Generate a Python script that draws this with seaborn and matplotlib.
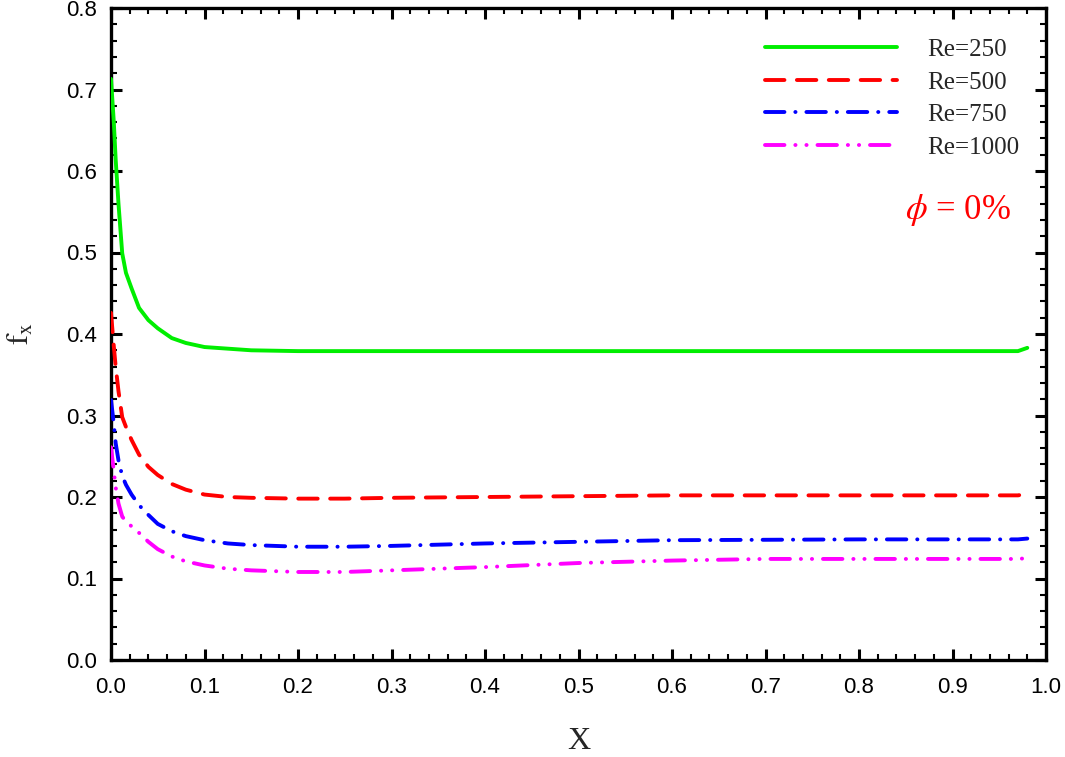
import numpy as np
import pandas as pd
import matplotlib
matplotlib.use("Agg")
import matplotlib.pyplot as plt
from matplotlib.ticker import MultipleLocator
import seaborn as sns

# ---- data ----
x_vals = [0.0, 0.003, 0.005, 0.008, 0.012, 0.016, 0.022, 0.03, 0.04, 0.05,
          0.065, 0.08, 0.1, 0.125, 0.15, 0.2, 0.25, 0.3, 0.4, 0.5,
          0.6, 0.7, 0.8, 0.9, 0.97, 0.98]
re250 = [0.713, 0.660, 0.614, 0.560, 0.499, 0.475, 0.456, 0.432, 0.417, 0.407,
         0.395, 0.389, 0.384, 0.382, 0.380, 0.379, 0.379, 0.379, 0.379, 0.379,
         0.379, 0.379, 0.379, 0.379, 0.379, 0.383]
re500 = [0.426, 0.385, 0.360, 0.330, 0.298, 0.286, 0.270, 0.252, 0.237, 0.227,
         0.216, 0.209, 0.203, 0.200, 0.199, 0.198, 0.198, 0.199, 0.200, 0.201,
         0.202, 0.202, 0.202, 0.202, 0.202, 0.204]
re750 = [0.319, 0.290, 0.266, 0.245, 0.226, 0.215, 0.203, 0.190, 0.178, 0.167,
         0.158, 0.152, 0.147, 0.143, 0.141, 0.139, 0.139, 0.140, 0.143, 0.145,
         0.147, 0.1475, 0.148, 0.148, 0.148, 0.149]
re1000 = [0.261, 0.232, 0.212, 0.192, 0.176, 0.170, 0.164, 0.156, 0.145, 0.136,
          0.127, 0.121, 0.116, 0.112, 0.110, 0.108, 0.108, 0.110, 0.114, 0.119,
          0.122, 0.124, 0.124, 0.124, 0.124, 0.125]
labels = ["Re=250", "Re=500", "Re=750", "Re=1000"]
colors = ["#00ee00", "#ff0000", "#0000ff", "#ff00ff"]

x_ticks = [0.0, 0.1, 0.2, 0.3, 0.4, 0.5, 0.6, 0.7, 0.8, 0.9, 1.0]
y_ticks = [0.0, 0.1, 0.2, 0.3, 0.4, 0.5, 0.6, 0.7, 0.8]

df = pd.concat([
    pd.DataFrame({"x": x_vals, "f": vals, "series": lab})
    for vals, lab in zip([re250, re500, re750, re1000], labels)
], ignore_index=True)

sns.set_theme(style="ticks")
plt.rcParams["font.family"] = ["Liberation Sans", "DejaVu Sans"]
plt.rcParams["mathtext.fontset"] = "stix"
plt.rcParams["lines.dash_capstyle"] = "round"
plt.rcParams["lines.solid_capstyle"] = "round"

fig = plt.figure(figsize=(10.65, 7.57), dpi=100)
ax = fig.add_axes([111 / 1065, 97 / 757, 935 / 1065, 652 / 757])

dashes = {
    "Re=250": "",
    "Re=500": (5.0, 3.2),
    "Re=750": (5.0, 2.8, 0.05, 2.8),
    "Re=1000": (5.0, 2.8, 0.05, 2.8, 0.05, 2.8),
}
sns.lineplot(data=df, x="x", y="f", hue="series", style="series",
             palette=dict(zip(labels, colors)), dashes=dashes,
             hue_order=labels, style_order=labels,
             linewidth=2.8, ax=ax, sort=False, legend=True)
for line in ax.get_lines():
    line.set_zorder(3)

ax.set_xlim(0.0, 1.0)
ax.set_ylim(0.0, 0.8)
ax.set_xticks(x_ticks)
ax.set_yticks(y_ticks)
ax.set_xticklabels([f"{v:.1f}" for v in x_ticks])
ax.set_yticklabels([f"{v:.1f}" for v in y_ticks])
ax.xaxis.set_minor_locator(MultipleLocator(0.02))
ax.yaxis.set_minor_locator(MultipleLocator(0.02))
ax.tick_params(which="both", direction="in", top=True, right=True,
               labelsize=16, colors="black")
ax.tick_params(which="major", length=8, width=2.2)
ax.tick_params(which="minor", length=4.5, width=1.5)
ax.tick_params(axis="x", which="major", pad=12)
ax.tick_params(axis="y", which="major", pad=10)
for s in ax.spines.values():
    s.set_linewidth(2.4)
    s.set_color("black")

ax.set_xlabel("X", fontsize=23, family=["Liberation Serif"], labelpad=21)
ax.set_ylabel(r"$\mathrm{f_x}$", fontsize=22, labelpad=22)

leg = ax.legend(loc="upper left", bbox_to_anchor=(0.699, 0.953),
                frameon=False, handlelength=5.3,
                handletextpad=1.2, labelspacing=0.40,
                borderpad=0, borderaxespad=0,
                prop={"family": "Liberation Serif", "size": 18})
for line in leg.get_lines():
    line.set_linewidth(2.8)

ax.text(0.849, 0.69, r"$\phi$ = 0%", transform=ax.transAxes,
        color="red", fontsize=25, va="center", ha="left",
        family=["Liberation Serif"])

fig.savefig("out.png", dpi=100)
